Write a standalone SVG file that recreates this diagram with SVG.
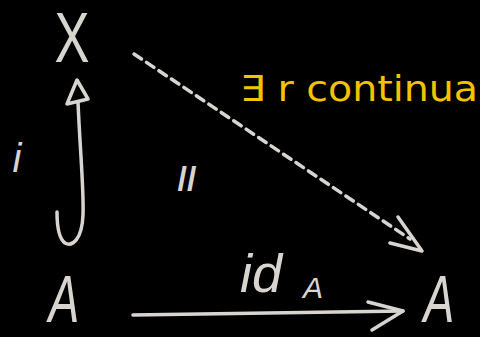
<svg xmlns="http://www.w3.org/2000/svg" width="480" height="337" viewBox="0 0 480 337">
<style>
.t{fill:#d8d5d0;font-family:"Liberation Sans","DejaVu Sans",sans-serif;}
.s{fill:none;stroke:#d8d5d0;stroke-width:3.5;stroke-linecap:round;stroke-linejoin:round;}
.y{fill:#f2c300;font-family:"DejaVu Sans","Liberation Sans",sans-serif;}
</style>
<rect width="480" height="337" fill="#000"/>
<g id="node-X"><text class="t" x="72" y="62" font-size="70" text-anchor="middle" transform="translate(72 0) scale(0.75 1) translate(-72 0)">X</text></g>
<g id="node-A-left"><text class="t" x="64" y="322" font-size="66" text-anchor="middle" font-style="italic" transform="translate(64 0) scale(0.7 1) translate(-64 0)">A</text></g>
<g id="node-A-right"><text class="t" x="439" y="322" font-size="66" text-anchor="middle" font-style="italic" transform="translate(439 0) scale(0.7 1) translate(-439 0)">A</text></g>
<g id="connectors">
<g id="edge-i">
<path class="s" d="M78,102 C80,150 84,190 83,215 C82,240 72,247 65,243 C58,238 57,225 57,212"/>
<path class="s" d="M77,80 L67,104 L88,99 Z"/>
</g>
<g id="edge-r">
<path class="s" d="M134,54 L410,239" stroke-dasharray="9,6" stroke-linecap="butt"/>
<path class="s" d="M398,217 L422,251 L390,243"/>
</g>
<g id="edge-idA">
<path class="s" d="M133,315 L403,311"/>
<path class="s" d="M368,302 L403,311 L372,330"/>
</g>
</g>
<g id="labels">
<text class="t" x="17" y="172" font-size="40" text-anchor="middle" font-style="italic">i</text>
<text class="t" x="187" y="190" font-size="34" text-anchor="middle" font-weight="bold">//</text>
<text class="t" x="261" y="292" font-size="54" text-anchor="middle" font-style="italic">id</text>
<text class="t" x="313" y="298" font-size="30" text-anchor="middle" font-style="italic">A</text>
<text class="y" x="240" y="101" font-size="36" textLength="238" lengthAdjust="spacingAndGlyphs">∃ r continua</text>
</g>
</svg>
